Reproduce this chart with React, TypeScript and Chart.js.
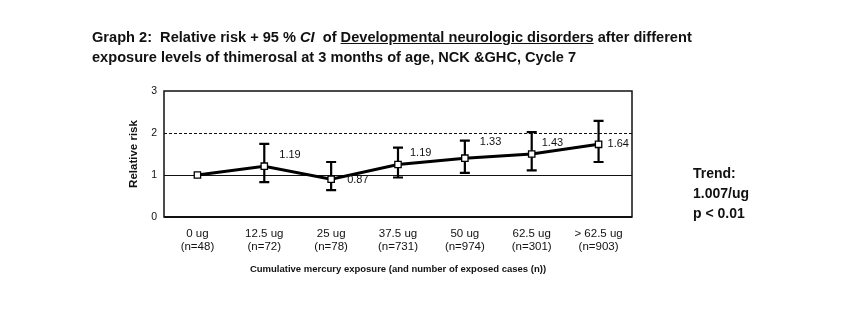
import React, { useEffect, useRef } from "react";
import { Chart, registerables } from "chart.js";

Chart.register(...registerables);

// ---- Data ----
const exposures = ["0 ug", "12.5 ug", "25 ug", "37.5 ug", "50 ug", "62.5 ug", "> 62.5 ug"];
const cases = ["(n=48)", "(n=72)", "(n=78)", "(n=731)", "(n=974)", "(n=301)", "(n=903)"];
const relativeRisk = [1.0, 1.21, 0.9, 1.25, 1.4, 1.5, 1.73];
const ciLower: (number | null)[] = [null, 0.83, 0.64, 0.94, 1.05, 1.11, 1.31];
const ciUpper: (number | null)[] = [null, 1.74, 1.31, 1.65, 1.82, 2.02, 2.29];
const riskLabels = ["", "1.19", "0.87", "1.19", "1.33", "1.43", "1.64"];
const yTicks = [0, 1, 2, 3];
const referenceSolid = 1;
const referenceDashed = 2;

// ---- Styles ----
const FONT = '"Liberation Sans", Arial, sans-serif';
const labelOffsets: [number, number][] = [
  [0, 0],
  [15, -11],
  [16, 1],
  [12, -12],
  [15, -16],
  [10, -11],
  [9, 0],
];

const overlayPlugin = {
  id: "overlay",
  beforeDatasetsDraw(chart: any) {
    const { ctx, chartArea, scales } = chart;
    const { left, right, top, bottom } = chartArea;
    const y = scales.y;
    const x = scales.x;
    ctx.save();
    ctx.strokeStyle = "#111";
    // solid reference line
    ctx.lineWidth = 1.2;
    const ys = Math.round(y.getPixelForValue(referenceSolid)) + 0.5;
    ctx.beginPath();
    ctx.moveTo(left, ys);
    ctx.lineTo(right, ys);
    ctx.stroke();
    // dashed reference line
    ctx.setLineDash([3, 2]);
    ctx.lineWidth = 1;
    const yd = Math.round(y.getPixelForValue(referenceDashed)) + 0.5;
    ctx.beginPath();
    ctx.moveTo(left, yd);
    ctx.lineTo(right, yd);
    ctx.stroke();
    ctx.setLineDash([]);
    // plot box
    ctx.lineWidth = 1.5;
    ctx.strokeRect(left, top, right - left, bottom - top);
    ctx.lineWidth = 2;
    ctx.beginPath();
    ctx.moveTo(left, bottom);
    ctx.lineTo(right, bottom);
    ctx.stroke();
    // error bars
    ctx.lineWidth = 2.2;
    ctx.strokeStyle = "#000";
    for (let i = 0; i < exposures.length; i++) {
      const lo = ciLower[i];
      const hi = ciUpper[i];
      if (lo == null || hi == null) continue;
      const px = x.getPixelForValue(i);
      const pl = y.getPixelForValue(lo);
      const ph = y.getPixelForValue(hi);
      ctx.beginPath();
      ctx.moveTo(px, pl);
      ctx.lineTo(px, ph);
      ctx.moveTo(px - 5, pl);
      ctx.lineTo(px + 5, pl);
      ctx.moveTo(px - 5, ph);
      ctx.lineTo(px + 5, ph);
      ctx.stroke();
    }
    ctx.restore();
  },
  afterDatasetsDraw(chart: any) {
    const { ctx, scales } = chart;
    const x = scales.x;
    const y = scales.y;
    ctx.save();
    ctx.fillStyle = "#111";
    ctx.font = `11px ${FONT}`;
    ctx.textAlign = "left";
    ctx.textBaseline = "middle";
    for (let i = 0; i < riskLabels.length; i++) {
      if (!riskLabels[i]) continue;
      const px = x.getPixelForValue(i) + labelOffsets[i][0];
      const py = y.getPixelForValue(relativeRisk[i]) + labelOffsets[i][1];
      ctx.fillText(riskLabels[i], px, py);
    }
    ctx.restore();
  },
};

function RiskChart() {
  const ref = useRef<HTMLCanvasElement | null>(null);
  useEffect(() => {
    if (!ref.current) return;
    const chart = new Chart(ref.current, {
      type: "line",
      data: {
        labels: exposures.map((e, i) => [e, cases[i]]),
        datasets: [
          {
            label: "Relative risk",
            data: relativeRisk,
            borderColor: "#000",
            borderWidth: 3,
            tension: 0,
            pointStyle: "rect",
            pointRadius: 4.5,
            pointBorderWidth: 1.3,
            pointBackgroundColor: "#fff",
            pointBorderColor: "#000",
          },
        ],
      },
      options: {
        responsive: false,
        animation: false,
        devicePixelRatio: 1,
        layout: { padding: { left: 100, right: 232, top: 91, bottom: 44 } },
        plugins: {
          legend: { display: false },
          tooltip: { enabled: false },
          title: { display: false },
        },
        scales: {
          x: {
            type: "category",
            offset: true,
            grid: { display: false, drawTicks: false },
            border: { display: false },
            ticks: {
              color: "#111",
              font: { family: FONT, size: 11.5, lineHeight: 1.1 },
              padding: 11,
              maxRotation: 0,
              autoSkip: false,
            },
            title: {
              display: true,
              text: "Cumulative mercury exposure (and number of exposed cases (n))",
              color: "#111",
              font: { family: FONT, size: 9.5, weight: "bold" },
              padding: { top: 0, bottom: 2 },
            },
            afterFit(scale: any) {
              scale.height = 60;
            },
          },
          y: {
            min: yTicks[0],
            max: yTicks[yTicks.length - 1],
            grid: { display: false, drawTicks: false },
            border: { display: false },
            afterBuildTicks(scale: any) {
              scale.ticks = yTicks.map((v) => ({ value: v }));
            },
            ticks: {
              color: "#111",
              font: { family: FONT, size: 10.5 },
              padding: 7,
            },
            title: {
              display: true,
              text: "Relative risk",
              color: "#111",
              font: { family: FONT, size: 11.5, weight: "bold" },
              padding: { top: 27, bottom: 0 },
            },
            afterFit(scale: any) {
              scale.width = 64;
            },
          },
        },
      },
      plugins: [overlayPlugin],
    });
    return () => chart.destroy();
  }, []);
  return <canvas ref={ref} width={864} height={321} style={{ display: "block", width: 864, height: 321 }} />;
}

export default function App() {
  return (
    <div
      style={{
        position: "fixed",
        left: 0,
        top: 0,
        width: 864,
        height: 321,
        background: "#fff",
        overflow: "hidden",
      }}
    >
      <RiskChart />
      <div
        style={{
          position: "absolute",
          left: 92,
          top: 27,
          fontFamily: FONT,
          fontSize: 14.6,
          fontWeight: "bold",
          lineHeight: "20px",
          color: "#111",
          whiteSpace: "pre",
        }}
      >
        {"Graph 2:  Relative risk + 95 % "}
        <i>CI</i>
        {"  of "}
        <u>Developmental neurologic disorders</u>
        {" after different"}
        <br />
        {"exposure levels of thimerosal at 3 months of age, NCK &GHC, Cycle 7"}
      </div>
      <div
        style={{
          position: "absolute",
          left: 693,
          top: 163,
          fontFamily: FONT,
          fontSize: 14,
          fontWeight: "bold",
          lineHeight: "20px",
          color: "#111",
          whiteSpace: "pre",
        }}
      >
        {"Trend:"}
        <br />
        {"1.007/ug"}
        <br />
        {"p < 0.01"}
      </div>
    </div>
  );
}
